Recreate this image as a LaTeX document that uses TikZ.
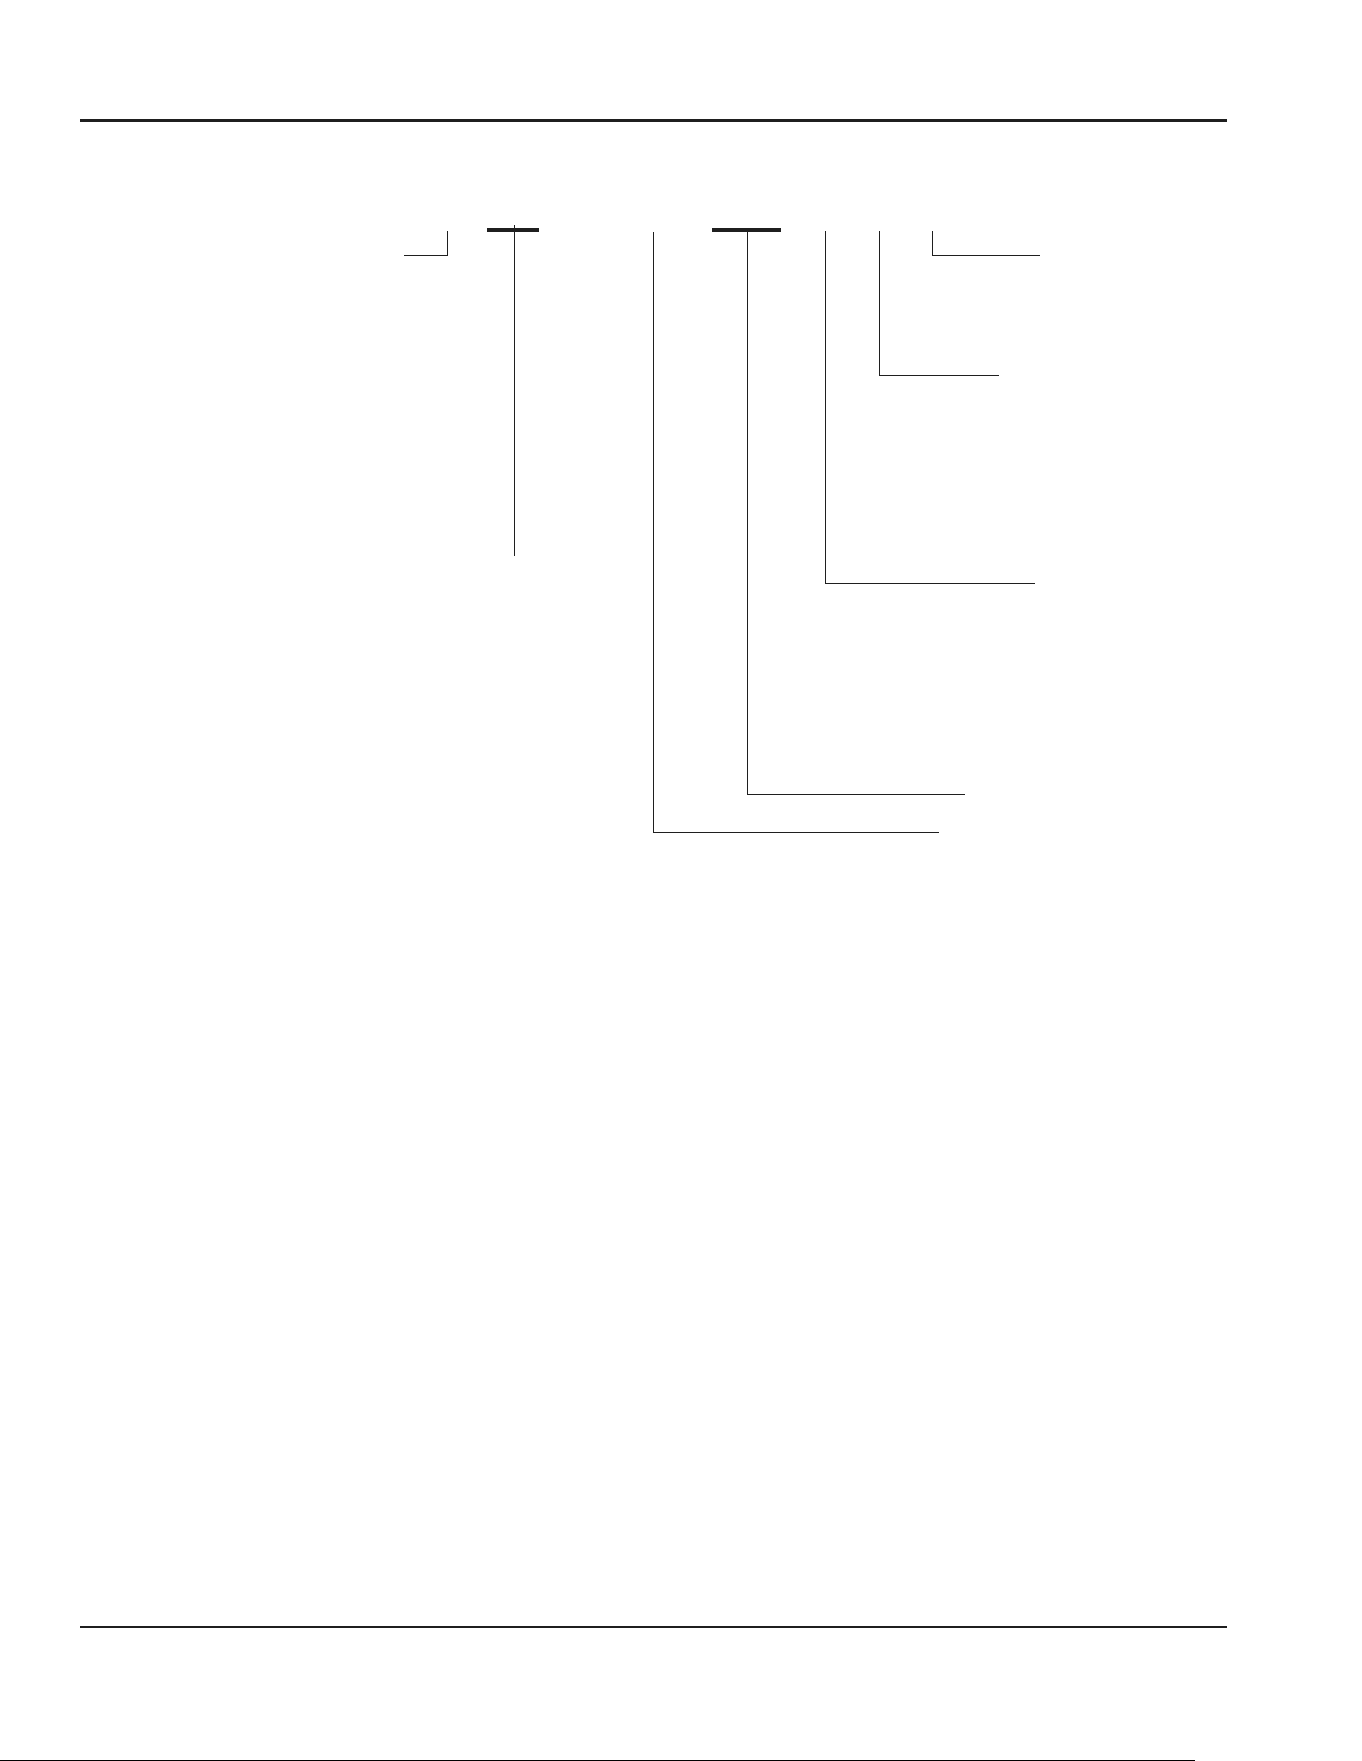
\documentclass[tikz,border=0pt]{standalone}
\begin{document}
\begin{tikzpicture}[x=0.5pt,y=-0.5pt,
  leader/.style={draw=black!88,line width=0.65pt,line cap=butt,line join=miter},
  barline/.style={draw=black!88,line width=2pt,line cap=butt},
  rulea/.style={draw=black!88,line width=1.5pt},
  ruleb/.style={draw=black!88,line width=1.1pt}]
\useasboundingbox (0,0) rectangle (1361,1761);
% rules
\coordinate (tl) at (80,120.5); \coordinate (tr) at (1227,120.5);
\coordinate (bl) at (80,1627); \coordinate (br) at (1227,1627);
\draw[rulea] (tl) -- (tr);
\draw[ruleb] (bl) -- (br);
% corner at left
\coordinate (c0) at (404,255.3); \coordinate (c1) at (447.7,255.3); \coordinate (c2) at (447.7,231);
\draw[leader] (c0) -- (c1) -- (c2);
% bar 1 with stem
\coordinate (b1a) at (487,230); \coordinate (b1b) at (539,230);
\draw[barline] (b1a) -- (b1b);
\coordinate (s1t) at (514.3,225); \coordinate (s1b) at (514.3,555.7);
\draw[leader] (s1t) -- (s1b);
% L1
\coordinate (l1t) at (653.3,232); \coordinate (l1c) at (653.3,832.3); \coordinate (l1e) at (939,832.3);
\draw[leader] (l1t) -- (l1c) -- (l1e);
% bar 2 with L2
\coordinate (b2a) at (712,230); \coordinate (b2b) at (781,230);
\draw[barline] (b2a) -- (b2b);
\coordinate (l2t) at (747.3,232); \coordinate (l2c) at (747.3,794.3); \coordinate (l2e) at (965,794.3);
\draw[leader] (l2t) -- (l2c) -- (l2e);
% L3
\coordinate (l3t) at (825.3,231); \coordinate (l3c) at (825.3,583.3); \coordinate (l3e) at (1035,583.3);
\draw[leader] (l3t) -- (l3c) -- (l3e);
% L4
\coordinate (l4t) at (879.3,231); \coordinate (l4c) at (879.3,375.3); \coordinate (l4e) at (999,375.3);
\draw[leader] (l4t) -- (l4c) -- (l4e);
% L5
\coordinate (l5t) at (932.3,231); \coordinate (l5c) at (932.3,255.3); \coordinate (l5e) at (1039.7,255.3);
\draw[leader] (l5t) -- (l5c) -- (l5e);
% bottom edge line
\coordinate (e0) at (0,1760.4); \coordinate (e1) at (1195,1760.4);
\draw[draw=black,line width=0.6pt] (e0) -- (e1);
\end{tikzpicture}
\end{document}
